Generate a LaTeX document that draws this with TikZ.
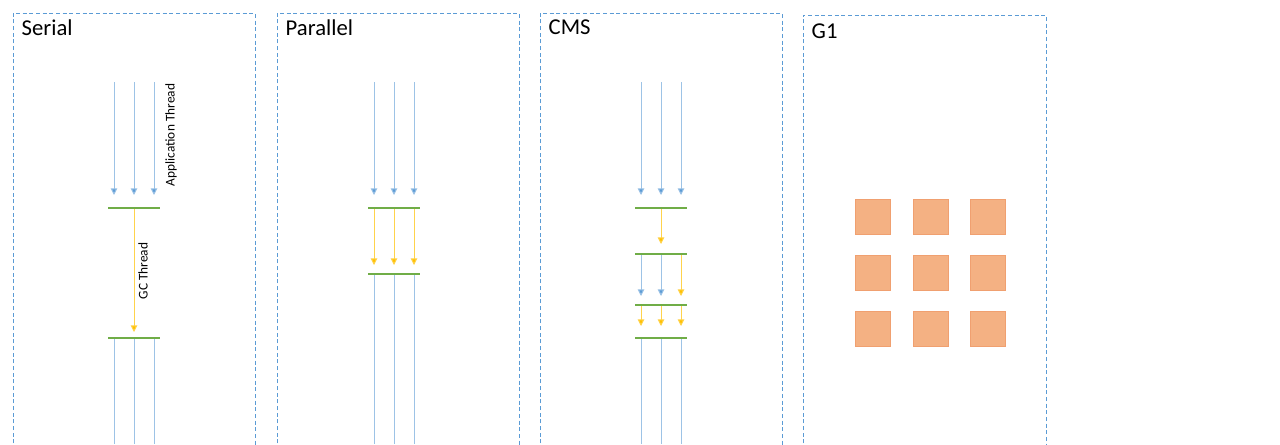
\documentclass[tikz,border=0pt]{standalone}
\usepackage{fontspec}
\setmainfont{Carlito}
\usetikzlibrary{arrows.meta}
\definecolor{boxc}{HTML}{5B9BD5}
\definecolor{appc}{HTML}{9DC3E6}
\definecolor{apparr}{HTML}{5B9BD5}
\definecolor{gcc}{HTML}{FFC000}
\definecolor{grn}{HTML}{70AD47}
\definecolor{reg}{HTML}{F4B183}
\definecolor{regb}{HTML}{F0A070}
\begin{document}
\begin{tikzpicture}[x=0.75pt,y=-0.75pt,
  panel/.style={draw=boxc,dash pattern=on 3pt off 2pt,line width=0.6pt},
  title/.style={anchor=north west,font=\fontsize{17}{19}\selectfont},
  app/.style={draw=appc,line width=0.7pt,-{Triangle[length=5pt,width=5pt,fill=apparr]}},
  appl/.style={draw=appc,line width=0.7pt},
  gc/.style={draw=gcc!70,line width=0.7pt,-{Triangle[length=5pt,width=5pt,fill=gcc]}},
  bar/.style={draw=grn,line width=0.9pt},
  lbl/.style={font=\fontsize{10}{12}\selectfont,rotate=90},
  region/.style={fill=reg,draw=regb,line width=0.4pt,minimum size=26.25pt,inner sep=0pt}]
\useasboundingbox (0,0) rectangle (1280,444);
% panels
\draw[panel] (13,450) -- (13,13) -- (255,13) -- (255,450);
\draw[panel] (277,450) -- (277,13) -- (519,13) -- (519,450);
\draw[panel] (540,450) -- (540,13) -- (782,13) -- (782,450);
\draw[panel] (803,450) -- (803,15) -- (1046,15) -- (1046,450);
\node[title] (t1) at (17,15) {Serial};
\node[title] (t2) at (281,15) {Parallel};
\node[title] (t3) at (544,15) {CMS};
\node[title] (t4) at (807,19) {G1};
% Serial
\foreach \x/\n in {114/a,134/b,154/c}{
  \coordinate (s\n0) at (\x,82); \coordinate (s\n1) at (\x,195);
  \coordinate (s\n2) at (\x,338); \coordinate (s\n3) at (\x,444);
  \draw[app] (s\n0) -- (s\n1);
  \draw[appl] (s\n2) -- (s\n3);}
\coordinate (sg0) at (134,208); \coordinate (sg1) at (134,332);
\draw[gc] (sg0) -- (sg1);
\coordinate (sb1l) at (108,208); \coordinate (sb1r) at (160,208);
\coordinate (sb2l) at (108,338); \coordinate (sb2r) at (160,338);
\draw[bar] (sb1l) -- (sb1r); \draw[bar] (sb2l) -- (sb2r);
\node[lbl] (lapp) at (171,135) {Application Thread};
\node[lbl] (lgc) at (143,271) {GC Thread};
% Parallel
\foreach \x/\n in {374/a,394/b,414/c}{
  \coordinate (p\n0) at (\x,82); \coordinate (p\n1) at (\x,195);
  \coordinate (p\n2) at (\x,208); \coordinate (p\n3) at (\x,265);
  \coordinate (p\n4) at (\x,274); \coordinate (p\n5) at (\x,444);
  \draw[app] (p\n0) -- (p\n1);
  \draw[gc] (p\n2) -- (p\n3);
  \draw[appl] (p\n4) -- (p\n5);}
\coordinate (pb1l) at (368,208); \coordinate (pb1r) at (420,208);
\coordinate (pb2l) at (368,274); \coordinate (pb2r) at (420,274);
\draw[bar] (pb1l) -- (pb1r); \draw[bar] (pb2l) -- (pb2r);
% CMS
\foreach \x/\n in {641/a,661/b,681/c}{
  \coordinate (c\n0) at (\x,82); \coordinate (c\n1) at (\x,195);
  \coordinate (c\n4) at (\x,305); \coordinate (c\n5) at (\x,326);
  \coordinate (c\n6) at (\x,338); \coordinate (c\n7) at (\x,444);
  \coordinate (c\n2) at (\x,254); \coordinate (c\n3) at (\x,296);
  \draw[app] (c\n0) -- (c\n1);
  \draw[gc] (c\n4) -- (c\n5);
  \draw[appl] (c\n6) -- (c\n7);}
\coordinate (cg0) at (661,208); \coordinate (cg1) at (661,244);
\draw[gc] (cg0) -- (cg1);
\draw[app] (ca2) -- (ca3); \draw[app] (cb2) -- (cb3); \draw[gc] (cc2) -- (cc3);
\foreach \y/\n in {208/1,254/2,305/3,338/4}{
  \coordinate (cb\n l) at (635,\y); \coordinate (cb\n r) at (687,\y);
  \draw[bar] (cb\n l) -- (cb\n r);}
% G1
\foreach \x/\i in {872.5/1,930.5/2,987.5/3}
  \foreach \y/\j in {216.5/1,272.5/2,328.5/3}
    \node[region] (r\i\j) at (\x,\y) {};
\end{tikzpicture}
\end{document}
